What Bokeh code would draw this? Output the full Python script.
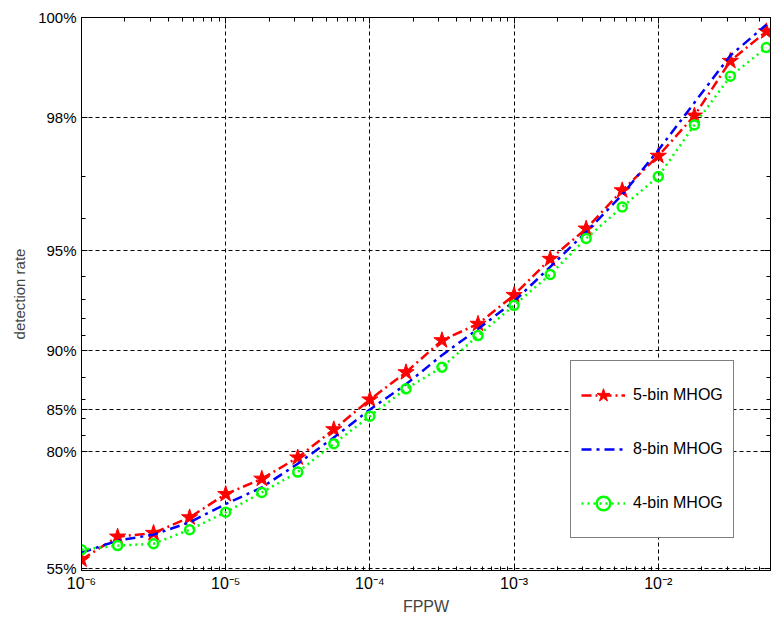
from bokeh.plotting import figure
from bokeh.models import (Range1d, FixedTicker, CustomJSTickFormatter, LogAxis,
                          Legend, LegendItem)
from bokeh.embed import file_html
from bokeh.resources import INLINE

# False positives per window (x) and detection rate in percent (y)
fppw = [1.0e-6, 1.78e-6, 3.16e-6, 5.62e-6, 1.0e-5, 1.78e-5, 3.16e-5, 5.62e-5,
        1.0e-4, 1.78e-4, 3.16e-4, 5.62e-4, 1.0e-3, 1.78e-3, 3.16e-3, 5.62e-3,
        1.0e-2, 1.78e-2, 3.16e-2, 5.62e-2]
det_5bin = [57.7, 63.9, 64.8, 68.4, 73.1, 75.8, 79.1, 82.8, 86.0, 88.4,
            90.7, 91.7, 93.2, 94.7, 95.7, 96.7, 97.4, 98.03, 98.65, 98.9]
det_8bin = [59.7, 62.9, 64.4, 67.3, 71.2, 74.3, 78.2, 81.8, 85.0, 87.4,
            89.7, 91.4, 92.9, 94.4, 95.6, 96.6, 97.5, 98.2, 98.7, 98.95]
det_4bin = [60.5, 61.6, 62.1, 65.6, 69.5, 73.4, 76.9, 81.0, 84.3, 87.0,
            88.8, 91.0, 92.7, 94.1, 95.4, 96.3, 97.0, 97.9, 98.5, 98.77]

series_labels = ["5-bin MHOG", "8-bin MHOG", "4-bin MHOG"]

# y axis is drawn on a log scale of the miss rate (1 - detection rate)
y_tick_miss = [0.01, 0.02, 0.05, 0.10, 0.15, 0.20, 0.45]
y_tick_labels = ["100%", "98%", "95%", "90%", "85%", "80%", "55%"]
y_minor_miss = [0.03, 0.04, 0.06, 0.07, 0.08, 0.09, 0.12, 0.14, 0.16, 0.18]

x_tick_exp = [-6, -5, -4, -3, -2]
x_tick_labels = ["10\u207b\u2076", "10\u207b\u2075", "10\u207b\u2074",
                 "10\u207b\u00b3", "10\u207b\u00b2"]

x_ticks = [10.0 ** e for e in x_tick_exp]
x_minor = [m * 10.0 ** e for e in range(-6, -1) for m in range(2, 10)
           if m * 10.0 ** e <= 0.06]


def miss(values):
    return [1.0 - v / 100.0 for v in values]


FONT = "Liberation Sans"

p = figure(width=772, height=624, x_axis_type="log", y_axis_type="log",
           x_range=Range1d(0.9999e-6, 0.06), y_range=Range1d(0.456, 0.009995),
           output_backend="svg", toolbar_location=None,
           min_border_left=81, min_border_right=2, min_border_top=17,
           min_border_bottom=54)
p.background_fill_color = "white"
p.border_fill_color = "white"
p.outline_line_color = "black"
p.outline_line_width = 1

xfmt = CustomJSTickFormatter(
    args=dict(labels={str(e): s for e, s in zip(x_tick_exp, x_tick_labels)}),
    code="return labels[Math.round(Math.log10(tick))] || '';")
yfmt = CustomJSTickFormatter(
    args=dict(labels={str(round(m * 100)): s for m, s in zip(y_tick_miss, y_tick_labels)}),
    code="return labels[Math.round(tick * 100)] || '';")
blank = CustomJSTickFormatter(code="return '';")


def style_axis(ax):
    ax.major_tick_in = 6
    ax.major_tick_out = 0
    ax.minor_tick_in = 4
    ax.minor_tick_out = 0
    ax.axis_line_color = "black"
    ax.major_tick_line_color = "black"
    ax.minor_tick_line_color = "black"
    ax.major_label_text_font = FONT
    ax.major_label_text_color = "black"


xax = p.xaxis[0]
xax.ticker = FixedTicker(ticks=x_ticks, minor_ticks=x_minor)
xax.formatter = xfmt
style_axis(xax)
xax.major_label_text_font_size = "16px"
xax.major_label_standoff = 4
xax.axis_label = "FPPW"
xax.axis_label_text_font = FONT
xax.axis_label_text_font_size = "16px"
xax.axis_label_text_font_style = "normal"
xax.axis_label_standoff = 3

yax = p.yaxis[0]
yax.ticker = FixedTicker(ticks=y_tick_miss, minor_ticks=y_minor_miss)
yax.formatter = yfmt
style_axis(yax)
yax.major_label_text_font_size = "15px"
yax.major_label_standoff = 5
yax.axis_label = "detection rate"
yax.axis_label_text_font = FONT
yax.axis_label_text_font_size = "15px"
yax.axis_label_text_font_style = "normal"
yax.axis_label_standoff = 7

# mirrored tick marks on the top and right edges of the box
top = LogAxis(ticker=FixedTicker(ticks=x_ticks, minor_ticks=x_minor), formatter=blank)
style_axis(top)
top.major_label_standoff = 0
p.add_layout(top, "above")
right = LogAxis(ticker=FixedTicker(ticks=y_tick_miss, minor_ticks=y_minor_miss), formatter=blank)
style_axis(right)
right.major_label_standoff = 0
p.add_layout(right, "right")

p.xgrid.ticker = FixedTicker(ticks=x_ticks)
p.ygrid.ticker = FixedTicker(ticks=y_tick_miss)
for g in (p.xgrid, p.ygrid):
    g.grid_line_color = "black"
    g.grid_line_dash = "4 3"
    g.grid_line_width = 1

red, blue, green = "#ff0000", "#0000ff", "#00ff00"

l5 = p.line(fppw, miss(det_5bin), line_color=red, line_width=2.5, line_dash="10 4 2 4")
s5 = p.scatter(fppw, miss(det_5bin), marker="star", size=17,
               fill_color=red, line_color=red, line_width=1)
l8 = p.line(fppw, miss(det_8bin), line_color=blue, line_width=2.5, line_dash="10 5 3 5")
l4 = p.line(fppw, miss(det_4bin), line_color=green, line_width=2.5, line_dash="2 4")
s4 = p.scatter(fppw, miss(det_4bin), marker="circle", size=9,
               fill_color=None, line_color=green, line_width=2.5)

legend = Legend(items=[LegendItem(label=series_labels[0], renderers=[l5, s5]),
                       LegendItem(label=series_labels[1], renderers=[l8]),
                       LegendItem(label=series_labels[2], renderers=[l4, s4])],
                location=(489, 32), margin=0, padding=10, spacing=6,
                label_height=48, glyph_height=34, glyph_width=44,
                label_standoff=8, label_text_font=FONT,
                label_text_font_size="16px", label_text_color="black",
                border_line_color="black", border_line_width=1,
                background_fill_color="white", background_fill_alpha=1.0)
p.add_layout(legend)

open("out.html", "w").write(file_html(p, INLINE))
